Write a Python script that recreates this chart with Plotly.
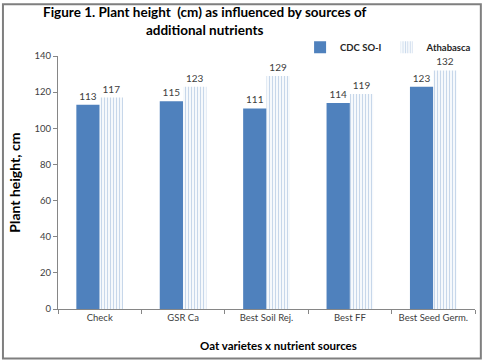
import plotly.graph_objects as go

categories = ["Check", "GSR Ca", "Best Soil Rej.", "Best FF", "Best Seed Germ."]
cdc_so1 = [113, 115, 111, 114, 123]
athabasca = [117, 123, 129, 119, 132]
y_ticks = [0, 20, 40, 60, 80, 100, 120, 140]

FONT = "Lato, Liberation Sans, sans-serif"

fig = go.Figure()
fig.add_trace(go.Bar(
    name="<b>CDC SO-I</b>", x=categories, y=cdc_so1,
    marker=dict(color="#4F81BD", line=dict(width=0)),
    text=[str(v) for v in cdc_so1], textposition="outside",
    textfont=dict(size=10, color="#404040", family=FONT),
    cliponaxis=False,
))
fig.add_trace(go.Bar(
    name="<b>Athabasca</b>", x=categories, y=athabasca,
    marker=dict(color="white", line=dict(width=0),
                pattern=dict(shape="|", fgcolor="#8FB0D6", bgcolor="white",
                             size=3, solidity=0.45)),
    text=[str(v) for v in athabasca], textposition="outside",
    textfont=dict(size=10, color="#404040", family=FONT),
    cliponaxis=False,
))

fig.update_layout(
    width=484, height=361,
    margin=dict(l=58, r=9, t=56, b=52, autoexpand=False),
    paper_bgcolor="white", plot_bgcolor="white",
    barmode="group", bargap=0.44, bargroupgap=0,
    font=dict(family=FONT, color="#404040"),
    legend=dict(
        orientation="h", x=1.005, xanchor="right", y=1.035, yanchor="middle",
        font=dict(size=9.5, color="#262626", family=FONT),
        bgcolor="rgba(0,0,0,0)", traceorder="normal",
        itemwidth=30,
    ),
    showlegend=True,
    xaxis=dict(
        showline=True, linecolor="#868686", linewidth=1,
        ticks="outside", ticklen=4, tickcolor="#868686", tickson="boundaries",
        tickfont=dict(size=9.5, color="#404040"), automargin=False,
        showgrid=False,
    ),
    yaxis=dict(
        range=[0, 140], tickvals=y_ticks,
        showline=True, linecolor="#868686", linewidth=1,
        ticks="outside", ticklen=4, tickcolor="#868686",
        tickfont=dict(size=9.5, color="#404040"), automargin=False,
        showgrid=False, zeroline=False,
    ),
    annotations=[
        dict(text="<b>Figure 1. Plant height  (cm) as influenced by sources of<br>additional nutrients</b>",
             xref="paper", yref="paper", x=0.352, y=1.215, xanchor="center", yanchor="top",
             showarrow=False, align="center",
             font=dict(size=13.5, color="black", family=FONT)),
        dict(text="<b>Oat varietes x nutrient sources</b>",
             xref="paper", yref="paper", x=0.528, y=-0.145, xanchor="center", yanchor="middle",
             showarrow=False, font=dict(size=11.5, color="black", family=FONT)),
        dict(text="<b>Plant height, cm</b>",
             xref="paper", yref="paper", x=-0.105, y=0.5, xanchor="center", yanchor="middle",
             textangle=-90, showarrow=False, font=dict(size=14, color="black", family=FONT)),
    ],
    shapes=[dict(type="rect", xref="paper", yref="paper",
                 x0=-0.132, x1=1.014, y0=-0.196, y1=1.205,
                 line=dict(color="#7F7F7F", width=2))],
)

fig.write_html("out.html",
               config={"displayModeBar": False, "staticPlot": True},
               post_script="document.body.style.margin='0';document.body.style.overflow='hidden';")
